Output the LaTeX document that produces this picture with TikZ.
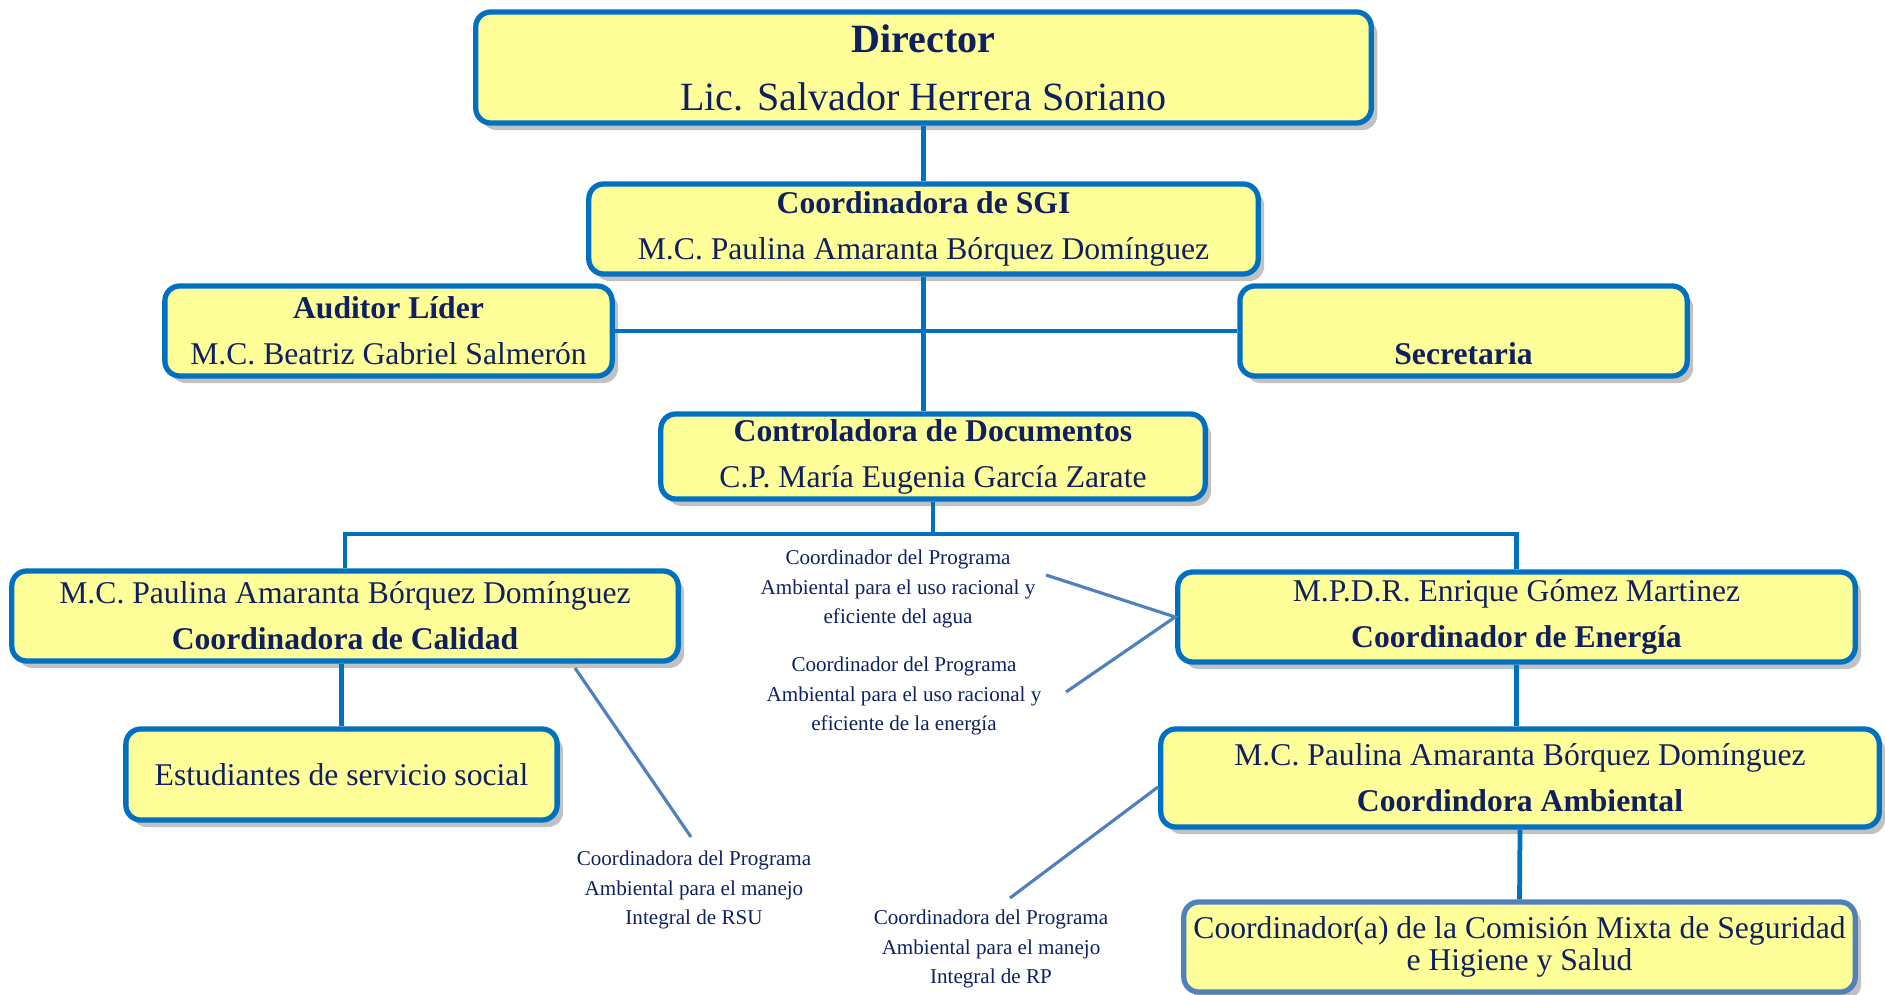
\documentclass[tikz,border=0pt]{standalone}
\usepackage{fontspec}
\setmainfont{Liberation Serif}
\usetikzlibrary{shadows}
\definecolor{amarillo}{HTML}{FFFF99}
\definecolor{bordeazul}{HTML}{0070C0}
\definecolor{notaazul}{HTML}{4F81BD}
\definecolor{tinta}{HTML}{0F2060}
\tikzset{cargo/.style={draw=bordeazul, line width=1.5pt, fill=amarillo,
    rounded corners=1.5mm, align=center, text=tinta, inner sep=0pt,
    font=\fontsize{9}{13.1}\selectfont,
    drop shadow={shadow xshift=0.6mm, shadow yshift=-0.7mm, opacity=0.35, fill=black!70}},
    linea/.style={draw=bordeazul, line width=1.35pt},
    nota/.style={align=center, text=tinta, font=\fontsize{6}{8.4}\selectfont},
    notalinea/.style={draw=notaazul, line width=0.9pt},
    }

\begin{document}
\begin{tikzpicture}[x=0.01cm,y=-0.01cm]
\useasboundingbox (0,0) rectangle (1885,994);
% direccion
\node[cargo, font=\fontsize{11.4}{16.5}\selectfont, minimum width=8.95cm, minimum height=1.11cm]
  (director) at (923.5,67.5) {\textbf{Director}\\Lic. Salvador Herrera Soriano};
\node[cargo, minimum width=6.69cm, minimum height=0.9cm] (sgi) at (923.5,229)
  {\textbf{Coordinadora de SGI}\\M.C. Paulina Amaranta Bórquez Domínguez};
\node[cargo, minimum width=4.47cm, minimum height=0.9cm] (auditor) at (388.5,331)
  {\textbf{Auditor Líder}\\M.C. Beatriz Gabriel Salmerón};
\node[cargo, minimum width=4.47cm, minimum height=0.9cm] (secretaria) at (1463.5,331)
  {\mbox{}\\[6pt]\textbf{Secretaria}};
\node[cargo, minimum width=5.44cm, minimum height=0.85cm] (control) at (933,456.5)
  {\textbf{Controladora de Documentos}\\C.P. María Eugenia García Zarate};
% coordinaciones
\node[cargo, minimum width=6.66cm, minimum height=0.9cm] (calidad) at (345,616)
  {M.C. Paulina Amaranta Bórquez Domínguez\\\textbf{Coordinadora de Calidad}};
\node[cargo, minimum width=6.77cm, minimum height=0.9cm] (energia) at (1516.5,617)
  {M.P.D.R. Enrique Gómez Martinez\\\textbf{Coordinador de Energía}};
\node[cargo, minimum width=4.31cm, minimum height=0.91cm] (estudiantes) at (341.5,774.5)
  {Estudiantes de servicio social};
\node[cargo, minimum width=7.18cm, minimum height=0.98cm] (ambiental) at (1520,778)
  {M.C. Paulina Amaranta Bórquez Domínguez\\\textbf{Coordindora Ambiental}};
\node[cargo, draw=notaazul, font=\fontsize{9}{9.1}\selectfont, minimum width=6.71cm, minimum height=0.9cm]
  (comision) at (1519.5,947)
  {Coordinador(a) de la Comisión Mixta de Seguridad\\e Higiene y Salud};
% programas ambientales
\node[nota] (agua) at (898,589) {Coordinador del Programa\\Ambiental para el uso racional y\\eficiente del agua};
\node[nota] (energianota) at (904,696) {Coordinador del Programa\\Ambiental para el uso racional y\\eficiente de la energía};
\node[nota] (rsu) at (694,890) {Coordinadora del Programa\\Ambiental para el manejo\\Integral de RSU};
\node[nota] (rp) at (991,949) {Coordinadora del Programa\\Ambiental para el manejo\\Integral de RP};
\coordinate (agua-c) at (1046,575);
\coordinate (energianota-c) at (1066,692);
\coordinate (calidad-c) at (575,668);
\coordinate (rsu-c) at (691,837);
\coordinate (ambiental-c) at (1158,787);
\coordinate (rp-c) at (1010,898);
\coordinate (bus) at (933,534);
% lineas
\draw[linea] (director.south) -- (sgi.north);
\draw[linea] (sgi.south) -- (sgi.south |- control.north);
\draw[linea] (auditor.east) -- (secretaria.west);
\draw[linea] (control.south) -- (bus);
\draw[linea] (calidad.north) |- (bus) -| (energia.north);
\draw[linea] (estudiantes.north) -- (estudiantes.north |- calidad.south);
\draw[linea] (energia.south) -- (energia.south |- ambiental.north);
\draw[linea] (ambiental.south) -- (comision.north);
\draw[notalinea] (agua-c) -- (energia.west) -- (energianota-c);
\draw[notalinea] (calidad-c) -- (rsu-c);
\draw[notalinea] (ambiental-c) -- (rp-c);
\end{tikzpicture}
\end{document}
